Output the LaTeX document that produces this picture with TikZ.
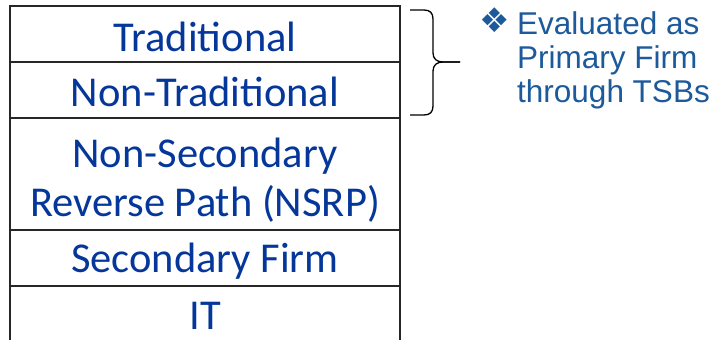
\documentclass[tikz,border=0pt]{standalone}
\usepackage{fontspec}
\setmainfont{Carlito}
\newfontfamily\arialfont{Liberation Sans}
\newfontfamily\symfont{DejaVu Sans}
\definecolor{tblue}{RGB}{5,55,155}
\definecolor{sblue}{RGB}{28,90,155}
\begin{document}
\begin{tikzpicture}[x=1pt,y=1pt,
  rowbox/.style={draw=black!85,line width=1.4pt,minimum width=390pt,inner sep=0pt,outer sep=0pt},
  rowtext/.style={text=tblue,font=\fontsize{42.5}{48}\selectfont,anchor=base,inner sep=0pt},
  sidetext/.style={text=sblue,font=\arialfont\fontsize{31.5}{34}\selectfont,anchor=base west,inner sep=0pt},
  bracepath/.style={draw=black,line width=1.3pt}]
\useasboundingbox (0,0) rectangle (713,340);
\fill[white] (0,0) rectangle (713,340);
\begin{scope}
\clip (0,0) rectangle (713,340);
\node[rowbox,minimum height=56pt] (r1) at (205,306) {};
\node[rowbox,minimum height=56pt] (r2) at (205,250) {};
\node[rowbox,minimum height=112pt] (r3) at (205,166) {};
\node[rowbox,minimum height=56pt] (r4) at (205,82) {};
\node[rowbox,minimum height=70pt] (r5) at (205,19) {};
\end{scope}
\node[rowtext] (t1) at (205,288) {Traditional};
\node[rowtext] (t2) at (205,233) {Non-Traditional};
\node[rowtext] (t3a) at (205,172) {Non-Secondary};
\node[rowtext] (t3b) at (205,123) {Reverse Path (NSRP)};
\node[rowtext] (t4) at (205,67) {Secondary Firm};
\node[rowtext] (t5) at (205,10) {IT};
\coordinate (btop) at (410,330);
\coordinate (btip) at (460,278);
\coordinate (bbot) at (410,225);
\draw[bracepath] (btop) -- (424,330) .. controls (430,330) and (433,327) .. (433,321) -- (433,287) .. controls (433,281) and (437,278) .. (443,278) -- (btip);
\draw[bracepath] (btip) -- (443,278) .. controls (437,278) and (433,275) .. (433,269) -- (433,234) .. controls (433,228) and (430,225) .. (424,225) -- (bbot);
\node[text=sblue,font=\symfont\fontsize{34}{34}\selectfont,anchor=base west,inner sep=0pt] (bul) at (479,307) {❖};
\node[sidetext] (s1) at (517,305) {Evaluated as};
\node[sidetext] (s2) at (517,271) {Primary Firm};
\node[sidetext] (s3) at (517,237) {through TSBs};
\end{tikzpicture}
\end{document}
